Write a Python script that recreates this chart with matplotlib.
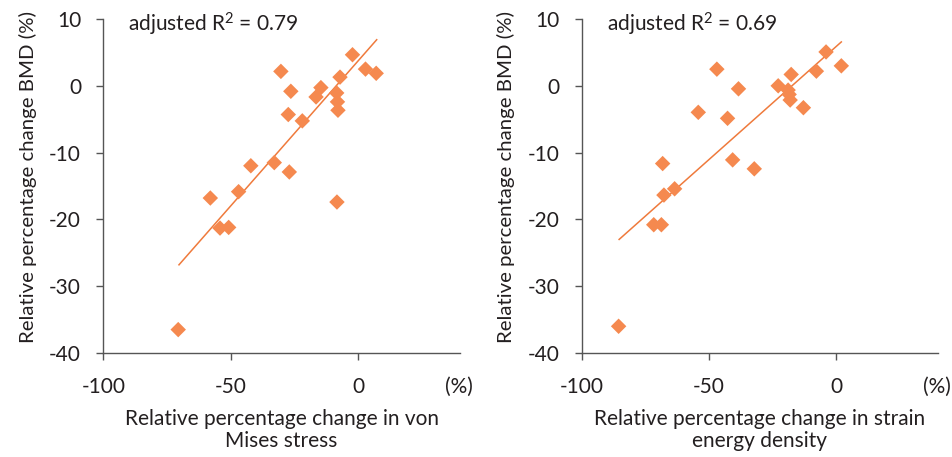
import matplotlib
matplotlib.use("Agg")
import matplotlib.pyplot as plt

plt.rcParams['font.family'] = ['Lato', 'DejaVu Sans']
plt.rcParams['mathtext.fontset'] = 'custom'
plt.rcParams['mathtext.rm'] = 'Lato'
plt.rcParams['mathtext.it'] = 'Lato:italic'

# Left panel: von Mises stress vs BMD
vm_x = [-2.2, 2.9, 7.1, -30.3, -7.1, -14.6, -26.4, -16.5, -8.4, -8.1, -7.9,
        -27.4, -21.9, -42.1, -32.9, -27.0, -46.9, -58.0, -8.3, -54.2, -50.8, -70.6]
vm_y = [4.65, 2.5, 1.87, 2.16, 1.3, -0.27, -0.82, -1.67, -1.07, -2.4, -3.66,
        -4.3, -5.25, -11.97, -11.5, -12.9, -15.85, -16.8, -17.4, -21.3, -21.2, -36.5]
vm_fit_x = [-70.3, 7.3]
vm_fit_y = [-26.8, 6.9]

# Right panel: strain energy density vs BMD
sed_x = [-4.0, 2.0, -7.8, -46.9, -17.7, -22.8, -38.4, -18.9, -18.5, -18.1, -12.9,
         -54.2, -42.7, -40.7, -32.2, -68.2, -63.5, -67.7, -71.7, -68.7, -85.5]
sed_y = [5.07, 2.99, 2.19, 2.49, 1.7, 0.0, -0.45, -0.64, -1.29, -2.13, -3.28,
         -3.97, -4.87, -11.09, -12.43, -11.64, -15.42, -16.36, -20.8, -20.8, -36.0]
sed_fit_x = [-85.3, 2.0]
sed_fit_y = [-23.0, 6.57]

x_ticks = [-100, -50, 0]
y_ticks = [10, 0, -10, -20, -30, -40]
r2_labels = [r"adjusted R$^\mathrm{2}$ = 0.79", r"adjusted R$^\mathrm{2}$ = 0.69"]
x_labels = ["Relative percentage change in von\nMises stress",
            "Relative percentage change in strain\nenergy density"]
y_label = "Relative percentage change BMD (%)"

marker_color = "#F5894F"
line_color = "#EF7A3C"
axis_color = "#555555"
text_color = "#231F20"

fig = plt.figure(figsize=(9.53, 4.57), dpi=100)
positions = [[0.1084, 0.2276, 0.3743, 0.7308], [0.6104, 0.2276, 0.3739, 0.7308]]
data = [(vm_x, vm_y, vm_fit_x, vm_fit_y), (sed_x, sed_y, sed_fit_x, sed_fit_y)]

for i, (pos, (xs, ys, fx, fy)) in enumerate(zip(positions, data)):
    ax = fig.add_axes(pos)
    ax.plot(fx, fy, color=line_color, lw=1.1, zorder=2)
    ax.scatter(xs, ys, marker='D', s=62, color=marker_color, edgecolors='none', zorder=3)
    ax.set_xlim(-100, 40)
    ax.set_ylim(-40, 10)
    ax.set_xticks(x_ticks)
    ax.set_xticklabels([str(t) for t in x_ticks])
    ax.set_yticks(y_ticks)
    ax.set_yticklabels([str(t) for t in y_ticks])
    for s in ['top', 'right']:
        ax.spines[s].set_visible(False)
    for s in ['left', 'bottom']:
        ax.spines[s].set_color(axis_color)
        ax.spines[s].set_linewidth(1.0)
    ax.tick_params(direction='out', length=5, width=1.0, color=axis_color,
                   labelsize=15, labelcolor=text_color)
    ax.tick_params(axis='x', pad=12)
    ax.tick_params(axis='y', pad=11)
    ax.text(0.07, 0.985, r2_labels[i], transform=ax.transAxes, fontsize=15,
            color=text_color, va='center', ha='left')
    ax.text(1.036, -0.101, "(%)", transform=ax.transAxes, fontsize=15,
            color=text_color, va='center', ha='right')
    ax.set_xlabel(x_labels[i], fontsize=15, color=text_color, labelpad=9,
                  linespacing=1.15)
    ax.set_ylabel(y_label, fontsize=14.7, color=text_color)
    ax.yaxis.set_label_coords(-0.186, 0.527)

fig.savefig("out.png", dpi=100)
